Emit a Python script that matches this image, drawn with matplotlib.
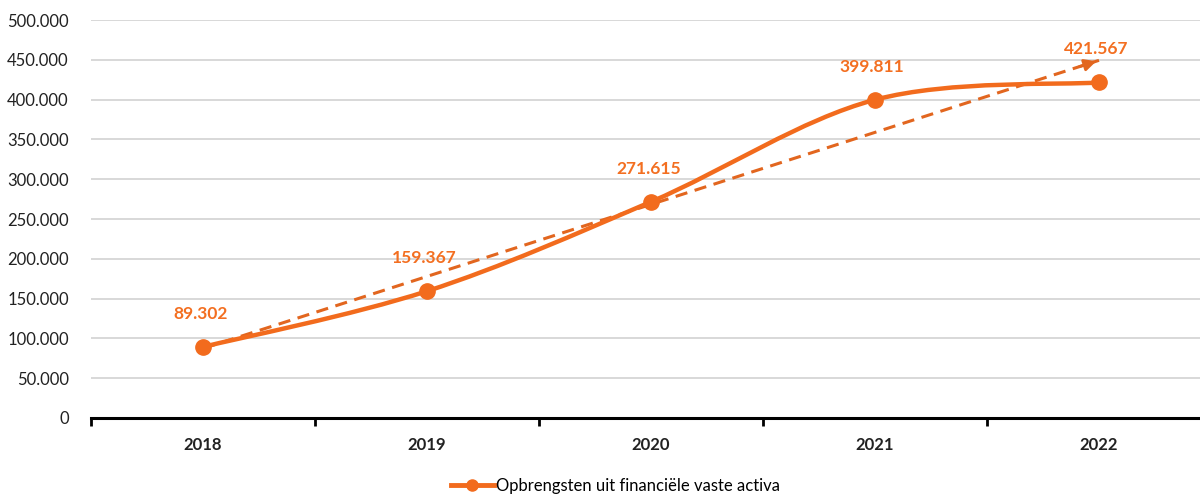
import numpy as np
import matplotlib.pyplot as plt
from matplotlib.path import Path
from matplotlib.patches import PathPatch
from matplotlib.lines import Line2D
from matplotlib.ticker import FuncFormatter, FixedLocator

plt.rcParams['font.family'] = ['Lato', 'DejaVu Sans']

# Data
jaren = ['2018', '2019', '2020', '2021', '2022']
opbrengsten = [89302, 159367, 271615, 399811, 421567]
reeks_naam = 'Opbrengsten uit financiële vaste activa'

ORANJE = '#F26B1D'
LABEL_ORANJE = '#F36F21'
TREND_ORANJE = '#E2661F'

fig = plt.figure(figsize=(12, 4.97), dpi=100)
ax = fig.add_axes([91 / 1200, 79 / 497, 1120 / 1200, 398 / 497])

x = np.arange(len(jaren))
y = np.array(opbrengsten, dtype=float)

# Smoothed line (Excel-like bezier through the points)
pts = np.column_stack([x, y])
ext = np.vstack([pts[0], pts, pts[-1]])
verts = [tuple(pts[0])]
codes = [Path.MOVETO]
for i in range(len(pts) - 1):
    p0, p1, p2, p3 = ext[i], ext[i + 1], ext[i + 2], ext[i + 3]
    c1 = p1 + (p2 - p0) / 6
    c2 = p2 - (p3 - p1) / 6
    verts += [tuple(c1), tuple(c2), tuple(p2)]
    codes += [Path.CURVE4] * 3
ax.add_patch(PathPatch(Path(verts, codes), facecolor='none', edgecolor=ORANJE,
                       lw=3.2, zorder=3, capstyle='round'))
ax.plot(x, y, 'o', color=ORANJE, ms=11, zorder=4)

# Linear trendline with arrow
coef = np.polyfit(x, y, 1)
trend = np.polyval(coef, x)
ax.plot([x[0], x[-1]], [trend[0], trend[-1]], ls=(0, (4, 2.5)), color=TREND_ORANJE, lw=2.2, zorder=2)
ax.annotate('', xy=(x[-1], trend[-1]), xytext=(x[-1] - 0.1, trend[-1] - 0.1 * coef[0]),
            arrowprops=dict(arrowstyle='-|>,head_length=0.7,head_width=0.35',
                            color=TREND_ORANJE, lw=2), zorder=2)

# Data labels
for xi, yi in zip(x, y):
    ax.annotate(f'{int(yi):,}'.replace(',', '.'), (xi, yi), xytext=(-2, 18),
                textcoords='offset points', ha='center', va='bottom',
                fontsize=12.5, fontweight='bold', color=LABEL_ORANJE, zorder=5)

ax.set_xlim(-0.5, 4.5)
ax.set_ylim(0, 500000)
ax.set_yticks(np.arange(0, 500001, 50000))
ax.yaxis.set_major_formatter(FuncFormatter(lambda v, p: f'{int(v):,}'.replace(',', '.')))
ax.grid(axis='y', color='#D6D6D6', lw=1.3)
ax.set_axisbelow(True)

ax.set_xticks(x)
ax.set_xticklabels(jaren, fontsize=12, fontweight='bold', color='#222222')
ax.xaxis.set_minor_locator(FixedLocator(np.arange(-0.5, 4.6, 1)))
ax.tick_params(axis='x', which='major', length=0, pad=14)
ax.tick_params(axis='x', which='minor', length=6, width=2, color='black')
ax.tick_params(axis='y', length=0, labelsize=12, colors='#222222', pad=16)

for s in ['top', 'right', 'left']:
    ax.spines[s].set_visible(False)
ax.spines['bottom'].set_linewidth(2.2)
ax.spines['bottom'].set_color('black')

handle = Line2D([], [], color=ORANJE, lw=3.5, marker='o', ms=8)
fig.legend([handle], [reeks_naam], loc='center', bbox_to_anchor=(615 / 1200, 11 / 497),
           frameon=False, fontsize=12, handlelength=2.6, handletextpad=0.1)

fig.savefig('out.png', dpi=100)
